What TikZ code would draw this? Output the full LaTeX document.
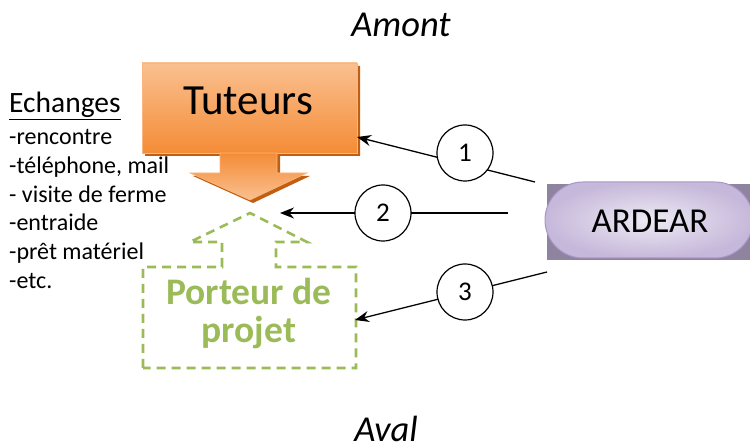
\documentclass[tikz,border=0pt]{standalone}
\usepackage{fontspec}
\setmainfont{Carlito}
\usetikzlibrary{arrows.meta,shapes.misc}
\definecolor{orL}{HTML}{FAC090}
\definecolor{orM}{HTML}{F48C36}
\definecolor{orD}{HTML}{C25E12}
\definecolor{grn}{HTML}{9BBB59}
\definecolor{lavIn}{HTML}{EEEAF4}
\definecolor{lavOut}{HTML}{C6B8DA}
\definecolor{lavB}{HTML}{A995C8}
\definecolor{lavS}{HTML}{8E84A0}
\tikzset{
  listtxt/.style={anchor=base west,inner sep=0pt,font=\fontsize{24}{24}\selectfont},
  numc/.style={circle,draw=black,line width=1.2pt,fill=white,minimum size=56pt,inner sep=0pt,font=\fontsize{27}{27}\selectfont},
  conn/.style={line width=1.3pt,-{Stealth[length=14pt,width=11pt]}},
  sidetxt/.style={anchor=base,inner sep=0pt,font=\fontsize{36.5}{36.5}\selectfont\itshape},
  porttxt/.style={inner sep=0pt,anchor=base,text=grn,font=\fontsize{37.5}{37.5}\selectfont\bfseries},
}
\begin{document}
\begin{tikzpicture}[x=1pt,y=-1pt]
\useasboundingbox (0,0) rectangle (750,446);
% Amont / Aval
\node[sidetxt] (amont) at (401,37) {Amont};
\node[sidetxt] (aval) at (386,441) {Aval};
% Tuteurs arrow
\fill[orD] (145,66) -- (360,66) -- (360,156) -- (280,156) -- (280,176) -- (310,176) -- (253,203) -- (193,176) -- (223,176) -- (223,156) -- (145,156) -- cycle;
\shade[top color=orL,bottom color=orM,draw=orL!80!orM,line width=0.6pt] (142,63) rectangle (357,153);
\shade[top color=orM,bottom color=orL,draw=orL!80!orM,line width=0.6pt] (220,153) -- (277,153) -- (277,173) -- (307,173) -- (250,200) -- (190,173) -- (220,173) -- cycle;
\node[inner sep=0pt,anchor=base,font=\fontsize{43}{43}\selectfont] (tut) at (248,115) {Tuteurs};
% Porteur de projet
\draw[grn,line width=2.6pt,dash pattern=on 9pt off 6pt,line join=miter]
  (143,368) -- (143,267) -- (222,267) -- (222,242) -- (190,242) -- (250,213) -- (307,242) -- (276,242) -- (276,267) -- (356,267) -- (356,368) -- cycle;
\node[porttxt] (port1) at (249,305) {Porteur de};
\node[porttxt] (port2) at (249,343) {projet};
% Echanges list
\node[listtxt,font=\fontsize{29.5}{29.5}\selectfont] (ech) at (9,113) {\underline{Echanges}};
\node[listtxt] (l1) at (9,145) {-rencontre};
\node[listtxt] (l2) at (9,173.7) {-téléphone, mail};
\node[listtxt] (l3) at (9,202.4) {- visite de ferme};
\node[listtxt] (l4) at (9,231) {-entraide};
\node[listtxt] (l5) at (9,259.8) {-prêt matériel};
\node[listtxt] (l6) at (9,288.5) {-etc.};
% ARDEAR
\fill[lavS,rounded rectangle] (547,184) -- (753,184) -- (753,260) -- (547,260);
\node[rounded rectangle,minimum width=208pt,minimum height=76pt,inner sep=0pt,
  inner color=lavIn,outer color=lavOut,draw=lavB,line width=1pt] (ardear) at (649,220) {};
\node[inner sep=0pt,anchor=base,font=\fontsize{35}{35}\selectfont] (ardtxt) at (650,233) {ARDEAR};
% connectors
\coordinate (s1) at (535,182);
\coordinate (e1) at (357,137);
\coordinate (s2) at (508,213);
\coordinate (e2) at (280,213);
\coordinate (s3) at (547,272);
\coordinate (e3) at (355,320);
\draw[conn] (s1) -- (e1);
\draw[conn] (s2) -- (e2);
\draw[conn] (s3) -- (e3);
\node[numc] (c1) at (465,153) {1};
\node[numc] (c2) at (383,213) {2};
\node[numc] (c3) at (465,292) {3};
\end{tikzpicture}
\end{document}
